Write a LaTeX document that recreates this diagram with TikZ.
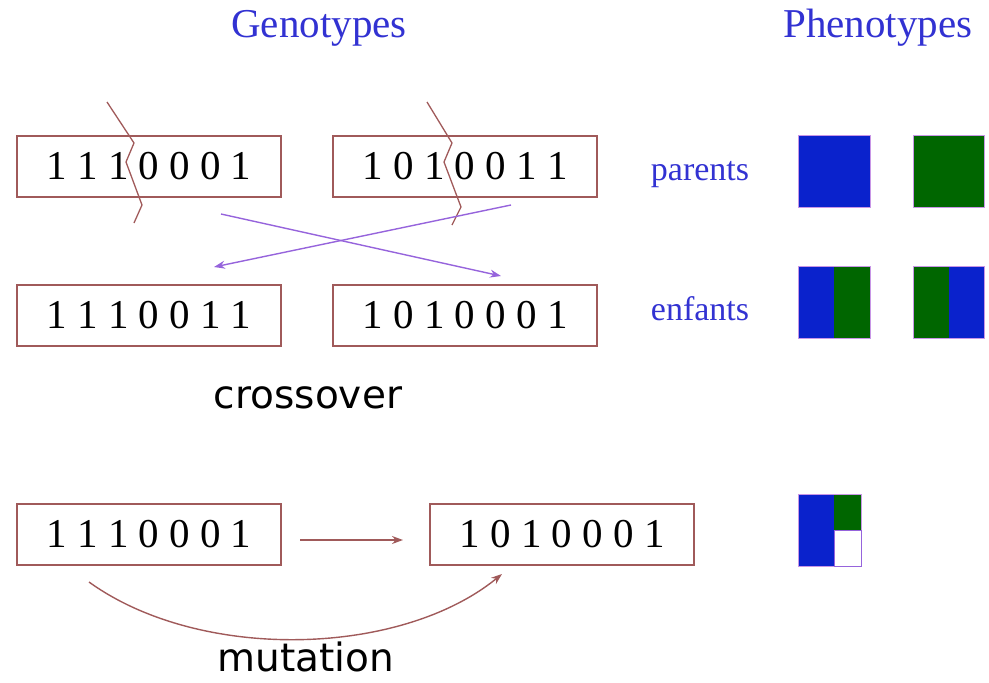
\documentclass[tikz,border=0pt]{standalone}
\usepackage{fontspec}
\setmainfont{Liberation Serif}
\newfontfamily\lblfont{DejaVu Sans}
\usetikzlibrary{arrows.meta}
\definecolor{boxbrown}{RGB}{160,90,90}
\definecolor{titleblue}{RGB}{50,50,210}
\definecolor{xpurple}{RGB}{150,100,220}
\definecolor{sqblue}{RGB}{10,34,204}
\definecolor{sqgreen}{RGB}{0,102,0}
\definecolor{sqedge}{RGB}{200,150,230}
\tikzset{
  genebox/.style={draw=boxbrown, line width=1.4pt, minimum width=264pt, minimum height=61pt, inner sep=0pt,
    font=\fontsize{41}{41}\selectfont},
  title/.style={text=titleblue, font=\fontsize{41}{41}\selectfont, inner sep=0pt, anchor=base},
  rowlabel/.style={text=titleblue, font=\fontsize{34}{34}\selectfont, inner sep=0pt, anchor=base},
  oplabel/.style={text=black, font=\lblfont\fontsize{39}{39}\selectfont, inner sep=0pt, anchor=base},
  cutline/.style={draw=boxbrown, line width=1.3pt},
  xarrow/.style={draw=xpurple, line width=1.4pt, -{Stealth[length=11pt,width=8pt]}},
  marrow/.style={draw=boxbrown, line width=1.4pt, -{Stealth[length=11pt,width=8pt]}},
  sq/.style={draw=sqedge, line width=0.8pt}
}
\begin{document}
\begin{tikzpicture}[x=1pt,y=-1pt]
\useasboundingbox (0,0) rectangle (989,683);
% titles
\node[title] (gtitle) at (319,37) {Genotypes};
\node[title] (ptitle) at (878,37) {Phenotypes};
% crossover boxes
\node[genebox] (p1) at (149,166.5) {1 1 1 0 0 0 1};
\node[genebox] (p2) at (465,166.5) {1 0 1 0 0 1 1};
\node[genebox] (c1) at (149,315.5) {1 1 1 0 0 1 1};
\node[genebox] (c2) at (465,315.5) {1 0 1 0 0 0 1};
% cut lines
\draw[cutline] (107,102) -- (134,143) -- (126,162) -- (142,205) -- (134,223);
\draw[cutline] (427,102) -- (452,143) -- (444,162) -- (461,207) -- (452,225);
% crossover arrows
\coordinate (a1s) at (221,214);
\coordinate (a1e) at (501,276);
\coordinate (a2s) at (511,205);
\coordinate (a2e) at (214,267);
\draw[xarrow] (a1s) -- (a1e);
\draw[xarrow] (a2s) -- (a2e);
% row labels
\node[rowlabel] (lp) at (700,180) {parents};
\node[rowlabel] (le) at (700,320) {enfants};
\node[oplabel] (lcross) at (308,408) {crossover};
% phenotype squares
\fill[sqblue] (798,135) rectangle (870,207);
\draw[sq] (798,135) rectangle (870,207);
\fill[sqgreen] (913,135) rectangle (984,207);
\draw[sq] (913,135) rectangle (984,207);
\fill[sqblue] (798,266) rectangle (834,338);
\fill[sqgreen] (834,266) rectangle (870,338);
\draw[sq] (798,266) rectangle (870,338);
\fill[sqgreen] (913,266) rectangle (949,338);
\fill[sqblue] (949,266) rectangle (984,338);
\draw[sq] (913,266) rectangle (984,338);
% mutation
\node[genebox] (m1) at (149,534.5) {1 1 1 0 0 0 1};
\node[genebox] (m2) at (562,534.5) {1 0 1 0 0 0 1};
\coordinate (ms) at (300,540);
\coordinate (me) at (403,540);
\draw[marrow] (ms) -- (me);
\coordinate (cs) at (89,582);
\coordinate (ce) at (502,574);
\draw[marrow] (cs) .. controls (200,662) and (400,657) .. (ce);
\node[oplabel] (lmut) at (306,671) {mutation};
% mutation phenotype
\fill[sqblue] (798,494) rectangle (834,566);
\fill[sqgreen] (834,494) rectangle (861,530);
\fill[white] (834,530) rectangle (861,566);
\draw[sq] (798,494) rectangle (861,566);
\draw[draw=xpurple, line width=0.8pt] (834,530) rectangle (861,566);
\end{tikzpicture}
\end{document}
